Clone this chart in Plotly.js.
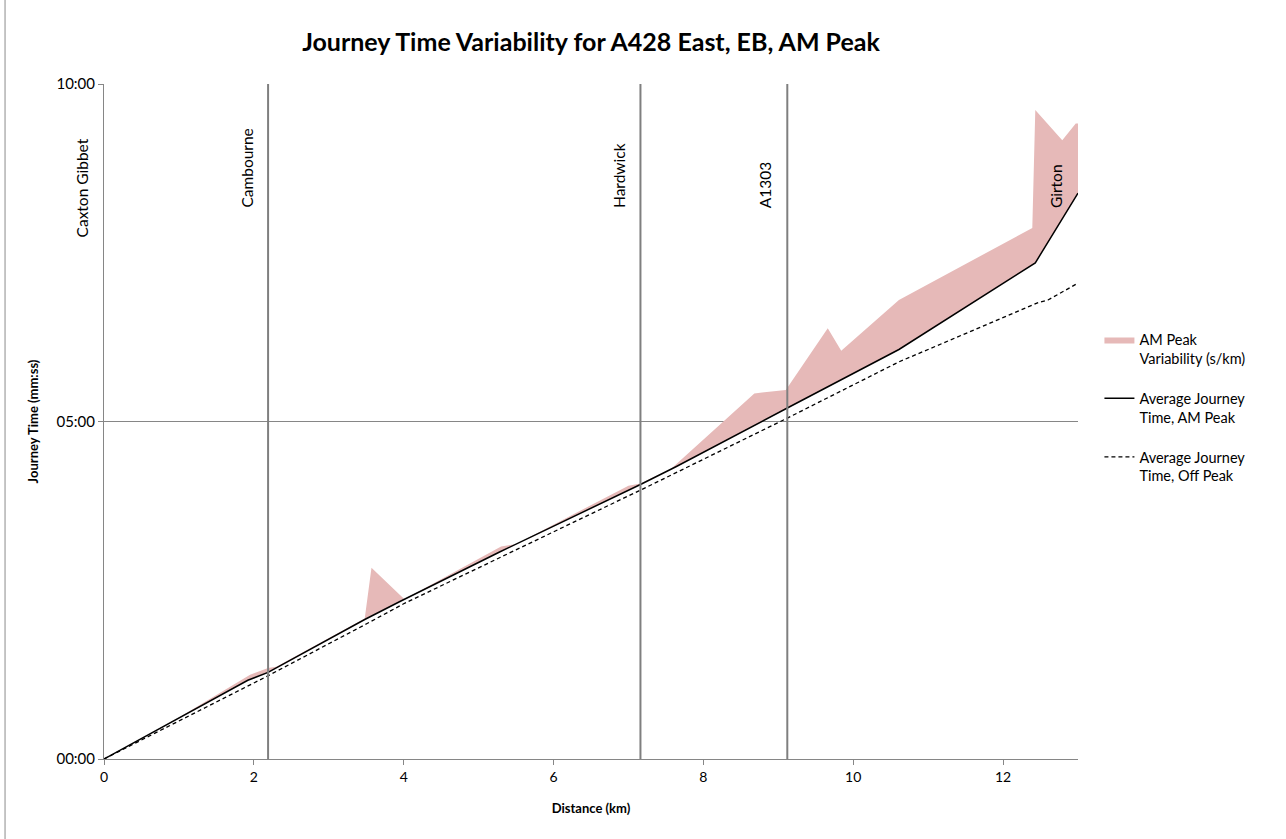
<!DOCTYPE html>
<html>
<head>
<meta charset="utf-8">
<script src="https://cdn.plot.ly/plotly-3.0.1.min.js"></script>
<style>html,body{margin:0;padding:0;background:#fff;}#chart{width:1286px;height:839px;}</style>
</head>
<body>
<div id="chart"></div>
<script>
// Average journey time, AM peak (distance km, cumulative seconds)
var amDist = [0, 1.92, 2.19, 3.48, 3.95, 5.28, 7.16, 7.64, 9.12, 10.61, 12.43, 13.0];
var amTime = [0, 70, 77, 124, 140, 184, 244, 260, 312, 364, 441, 503];

// Upper edge of AM peak variability band
var varDist = [0, 1.0, 1.95, 2.19, 2.3, 3.48, 3.57, 4.01, 5.3, 5.5, 7.0, 7.16, 7.57, 8.68, 9.10, 9.66, 9.84, 10.61, 12.39, 12.43, 12.79, 12.97, 13.0];
var varTime = [0, 37, 75, 81, 82, 125, 170, 142, 189, 191, 243, 245, 258, 325, 328, 383, 363, 408, 472, 577, 550, 565, 565];

// Average journey time, off peak
var offDist = [0, 2.19, 3.5, 4.0, 7.16, 9.12, 10.61, 12.48, 12.6, 13.0];
var offTime = [0, 74, 120, 138, 239, 303, 353, 406, 408, 423];

// Timing points along the route
var placeNames = ["Caxton Gibbet", "Cambourne", "Hardwick", "A1303", "Girton"];
var placeDist = [0, 2.19, 7.16, 9.12, 13.0];

var xTicks = [0, 2, 4, 6, 8, 10, 12];
var yTickVals = [0, 300, 600];
var yTickText = ["00:00", "05:00", "10:00"];
var xMax = 13.0;

var FONT = "Lato, 'Open Sans', sans-serif";

var traces = [
  {x: amDist, y: amTime, type: "scatter", mode: "lines", name: "Average Journey<br>Time, AM Peak",
   line: {color: "#000000", width: 1.5}, legendrank: 2, legendgroup: "b", hoverinfo: "skip"},
  {x: varDist, y: varTime, type: "scatter", mode: "lines", name: "AM Peak<br>Variability (s/km)",
   line: {color: "rgba(0,0,0,0)", width: 0}, fill: "tonexty", fillcolor: "#e6b9b8",
   legendrank: 1, legendgroup: "a", hoverinfo: "skip"},
  {x: offDist, y: offTime, type: "scatter", mode: "lines", name: "Average Journey<br>Time, Off Peak",
   line: {color: "#000000", width: 1.3, dash: "4px,3px"}, legendrank: 3, legendgroup: "c", hoverinfo: "skip"}
];

var shapes = [];
var annotations = [];
placeDist.forEach(function (d, i) {
  if (d > 0 && d < xMax) {
    shapes.push({type: "line", xref: "x", yref: "paper", x0: d, x1: d, y0: 0, y1: 1,
      line: {color: "#7f7f7f", width: 2}, layer: "above"});
  }
  annotations.push({x: d, xref: "x", y: i === 0 ? 0.769 : 0.8133, yref: "paper",
    text: placeNames[i], showarrow: false, textangle: -90, xanchor: "right", yanchor: "bottom",
    xshift: -11, font: {family: FONT, size: 15.5, color: "#000"}});
});
// outer chart border (left edge)
shapes.push({type: "line", xref: "paper", yref: "paper", x0: -0.1016, x1: -0.1016, y0: -0.2, y1: 1.2,
  line: {color: "#8c8c8c", width: 1}});

var layout = {
  width: 1286, height: 839,
  margin: {l: 104, r: 208, t: 84, b: 80},
  paper_bgcolor: "#fff", plot_bgcolor: "#fff",
  font: {family: FONT, color: "#000"},
  title: {text: "<b>Journey Time Variability for A428 East, EB, AM Peak</b>", x: 0.5, xref: "paper",
    y: 0.95, yref: "container", yanchor: "middle", font: {family: FONT, size: 25, color: "#000"}},
  xaxis: {range: [0, xMax], tickvals: xTicks, ticks: "outside", ticklen: 5, tickcolor: "#868686",
    showline: true, linecolor: "#868686", linewidth: 1, showgrid: false, zeroline: false,
    tickfont: {size: 14, family: FONT}, fixedrange: true,
    title: {text: "<b>Distance (km)</b>", font: {size: 13, family: FONT}, standoff: 20}},
  yaxis: {range: [0, 600], tickvals: yTickVals, ticktext: yTickText, ticks: "outside", ticklen: 5,
    tickcolor: "#868686", showline: true, linecolor: "#868686", linewidth: 1,
    showgrid: true, gridcolor: "#868686", gridwidth: 1, zeroline: false,
    tickfont: {size: 15, family: FONT}, fixedrange: true,
    title: {text: "<b>Journey Time (mm:ss)</b>", font: {size: 13, family: FONT}, standoff: 14}},
  showlegend: true,
  legend: {x: 1.022, y: 0.645, xanchor: "left", yanchor: "top", traceorder: "grouped", tracegroupgap: 18,
    valign: "top", font: {size: 14.5, family: FONT, color: "#000"}, bgcolor: "rgba(0,0,0,0)"},
  shapes: shapes,
  annotations: annotations
};

Plotly.newPlot("chart", traces, layout, {displayModeBar: false, staticPlot: true});
</script>
</body>
</html>
